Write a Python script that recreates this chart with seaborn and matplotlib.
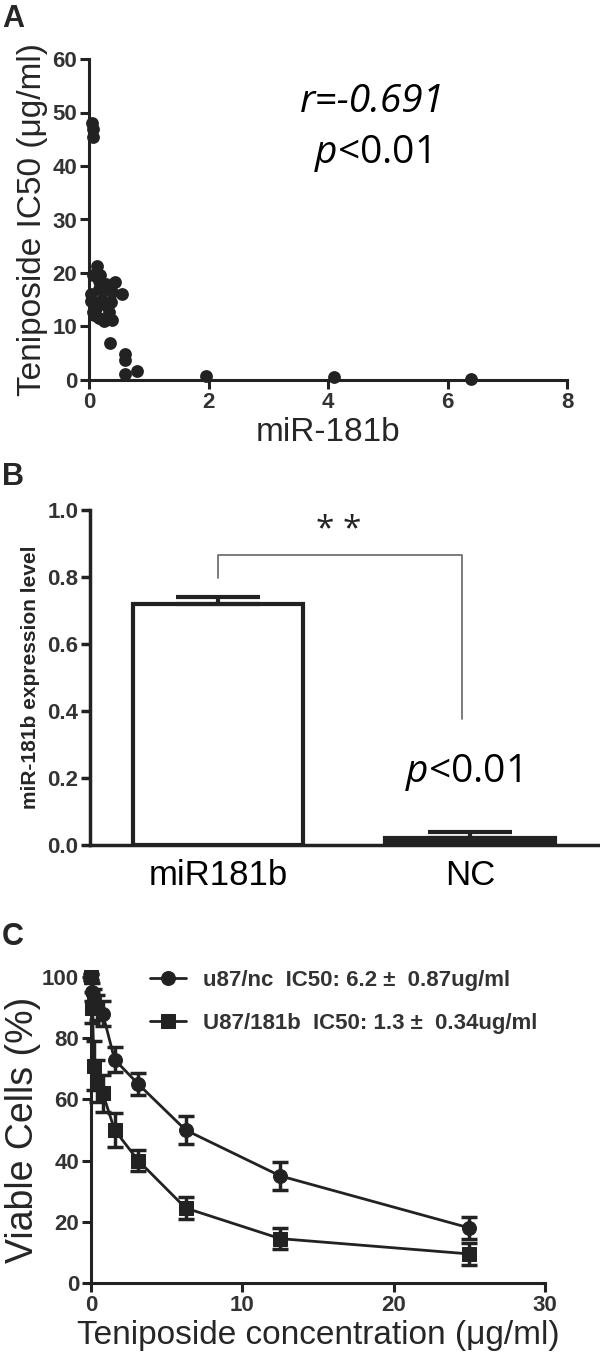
import numpy as np
import pandas as pd
import matplotlib
matplotlib.use("Agg")
import matplotlib.pyplot as plt
import seaborn as sns

# panel A: miR-181b vs teniposide IC50
mir_level = [0.05, 0.06, 0.06, 0.14, 0.07, 0.19, 0.43, 0.56, 0.30, 0.17, 0.04, 0.04,
             0.11, 0.28, 0.36, 0.07, 0.17, 0.25, 0.39, 0.09, 0.33, 0.22, 0.28, 0.17,
             0.39, 0.35, 0.60, 0.60, 0.60, 0.80, 1.95, 4.10, 6.40]
ic50 = [48.0, 47.0, 45.5, 21.4, 19.6, 19.6, 18.3, 16.0, 17.0, 17.0, 16.0, 14.7,
        13.5, 14.0, 14.5, 12.8, 11.6, 11.0, 11.3, 12.2, 12.8, 15.0, 18.0, 18.5,
        16.5, 7.0, 4.9, 3.8, 1.1, 1.7, 0.8, 0.6, 0.2]
r_text = "r=-0.691"
p_text = "$\\mathit{p}$<0.01"

# panel B: expression after transfection
groups = ["miR181b", "NC"]
expr = [0.72, 0.02]
expr_err = [0.02, 0.02]

# panel C: viability curves
conc = [0, 0.098, 0.195, 0.39, 0.78, 1.56, 3.125, 6.25, 12.5, 25]
nc_viab = [100, 95, 93, 90, 88, 73, 65, 50, 35, 18]
nc_err = [1, 3, 3, 4, 4, 4, 3.5, 4.5, 4.5, 3.5]
mir_viab = [100, 90, 71, 66, 62, 50, 40, 24.5, 14.5, 9.5]
mir_err = [1, 5, 8, 7, 6, 5.5, 3.5, 3.5, 3.5, 3.5]
nc_label = "u87/nc  IC50: 6.2 \u00b1  0.87ug/ml"
mir_label = "U87/181b  IC50: 1.3 \u00b1  0.34ug/ml"

sns.set_style("ticks")
plt.rcParams['font.family'] = ['Liberation Sans', 'DejaVu Sans']
plt.rcParams['mathtext.fontset'] = 'custom'
plt.rcParams['mathtext.it'] = 'Open Sans:italic'
plt.rcParams['mathtext.rm'] = 'Open Sans'

W, H = 600, 1357
DARK = '#222222'
TICK = '#333333'


def px_axes(fig, left, top, right, bottom):
    return fig.add_axes([left / W, 1 - bottom / H, (right - left) / W, (bottom - top) / H])


def style_axes(ax, lw=2.2, size=16):
    sns.despine(ax=ax)
    for s in ['left', 'bottom']:
        ax.spines[s].set_linewidth(lw)
        ax.spines[s].set_color(DARK)
    ax.tick_params(direction='out', length=6.5, width=lw, color=DARK,
                   labelsize=size, labelcolor=TICK, pad=2)
    for lab in ax.get_xticklabels() + ax.get_yticklabels():
        lab.set_fontweight('bold')


fig = plt.figure(figsize=(W / 100, H / 100), dpi=100)

# ---- A ----
axA = px_axes(fig, 89, 59, 567, 380)
sns.scatterplot(x=mir_level, y=ic50, ax=axA, color=DARK, s=85, edgecolor=DARK,
                linewidth=0, clip_on=False, zorder=3)
axA.set_xlim(0, 8)
axA.set_ylim(0, 60)
axA.set_xticks([0, 2, 4, 6, 8])
axA.set_yticks(range(0, 61, 10))
style_axes(axA)
axA.set_xlabel("miR-181b", fontsize=24, labelpad=3)
axA.set_ylabel("Teniposide IC50 (\u03bcg/ml)", fontsize=24, labelpad=3)
axA.text(4.74, 52.0, r_text, fontsize=28, style='italic', family='Open Sans',
         ha='center', va='center', color='black')
axA.text(4.74, 42.3, p_text, fontsize=28, family='Open Sans',
         ha='center', va='center', color='black')
fig.text(13 / W, 1 - 19 / H, "A", fontsize=22, fontweight='bold', ha='center', va='center')

# ---- B ----
axB = px_axes(fig, 90, 510, 600, 845)
sns.barplot(x=groups, y=expr, order=groups, ax=axB, width=0.675, errorbar=None,
            color='white')
bars = axB.patches
bars[0].set_facecolor('white')
bars[0].set_edgecolor(DARK)
bars[0].set_linewidth(3)
bars[1].set_facecolor(DARK)
bars[1].set_edgecolor(DARK)
bars[1].set_linewidth(3)
axB.errorbar(x=[0, 1], y=expr, yerr=[[0, 0], expr_err], fmt='none', ecolor=DARK,
             elinewidth=3, capsize=30, capthick=3, zorder=4)
axB.set_xlim(-0.508, 1.516)
axB.set_ylim(0, 1.0)
axB.set_yticks(np.arange(0, 1.01, 0.2))
axB.set_yticklabels([f"{v:.1f}" for v in np.arange(0, 1.01, 0.2)])
style_axes(axB, lw=2.5)
axB.tick_params(axis='x', length=0, labelsize=25, pad=10, labelcolor='black')
for lab in axB.get_xticklabels():
    lab.set_fontweight('normal')
axB.set_xlabel("")
axB.set_ylabel("miR-181b expression level", fontsize=15, fontweight='bold', labelpad=5)
axB.plot([0, 0, 0.97, 0.97], [0.797, 0.866, 0.866, 0.375], color='#666666', lw=1.2)
axB.text(0.48, 0.94, "* *", fontsize=24, family='Open Sans', ha='center', va='center',
         color=DARK)
axB.text(0.97, 0.217, p_text, fontsize=28, family='Open Sans',
         ha='center', va='center', color='black')
fig.text(13 / W, 1 - 477 / H, "B", fontsize=22, fontweight='bold', ha='center', va='center')

# ---- C ----
axC = px_axes(fig, 91, 977, 545, 1283)
sns.lineplot(x=conc, y=nc_viab, ax=axC, color=DARK, marker='o', markersize=10,
             markeredgecolor=DARK, linewidth=2, label=nc_label, clip_on=False)
sns.lineplot(x=conc, y=mir_viab, ax=axC, color=DARK, marker='s', markersize=10,
             markeredgecolor=DARK, linewidth=2, label=mir_label, clip_on=False)
axC.errorbar(conc, nc_viab, yerr=nc_err, fmt='none', ecolor=DARK, elinewidth=2.5,
             capsize=6, capthick=2.5, clip_on=False)
axC.errorbar(conc, mir_viab, yerr=mir_err, fmt='none', ecolor=DARK, elinewidth=2.5,
             capsize=6, capthick=2.5, clip_on=False)
axC.set_xlim(0, 30)
axC.set_ylim(0, 100)
axC.set_xticks([0, 10, 20, 30])
axC.set_yticks(range(0, 101, 20))
style_axes(axC)
axC.set_xlabel("Teniposide concentration (\u03bcg/ml)", fontsize=24, labelpad=3)
axC.set_ylabel("Viable Cells (%)", fontsize=27, labelpad=1)
leg = axC.legend(loc='upper left', bbox_to_anchor=(150 / W, 1 - 970 / H),
                 bbox_transform=fig.transFigure, frameon=False, borderpad=0,
                 borderaxespad=0, handlelength=1.6, handletextpad=0.8,
                 labelspacing=1.0, prop={'weight': 'bold', 'size': 16})
for t in leg.get_texts():
    t.set_color(TICK)
fig.text(13 / W, 1 - 937 / H, "C", fontsize=22, fontweight='bold', ha='center', va='center')

fig.savefig("out.png", dpi=100)
